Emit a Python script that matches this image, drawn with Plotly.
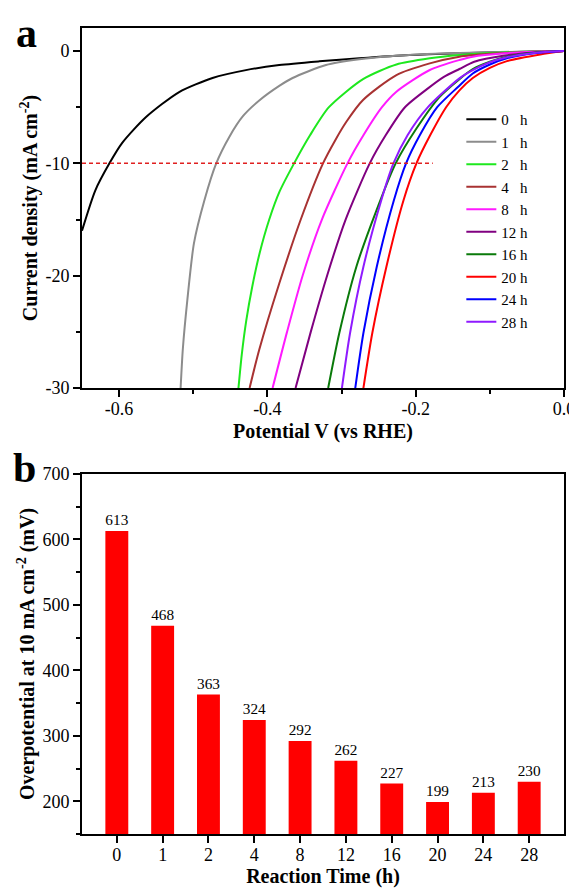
import plotly.graph_objects as go

FONT = "Liberation Serif, Times New Roman, serif"

# ---------------- panel a : LSV curves ----------------
labels = ["0\u2007 h", "1\u2007 h", "2\u2007 h", "4\u2007 h", "8\u2007 h",
          "12 h", "16 h", "20 h", "24 h", "28 h"]
colors = ["#000000", "#8c8c8c", "#1ee81e", "#a83232", "#ff1aff",
          "#800080", "#0a7a0a", "#ff0000", "#0000ff", "#8f1aff"]

x_0h = [-0.65, -0.632, -0.613, -0.596, -0.564, -0.519, -0.474, -0.429, -0.384, -0.33, -0.276, -0.208, -0.14, -0.07, 0.0]
y_0h = [-16.0, -12.4, -10.0, -8.2, -5.9, -3.65, -2.4, -1.7, -1.25, -0.92, -0.65, -0.36, -0.2, -0.08, 0.0]

x_1h = [-0.517, -0.514, -0.508, -0.499, -0.485, -0.469, -0.451, -0.433, -0.411, -0.384, -0.366, -0.321, -0.276, -0.231, -0.185, -0.1, 0.0]
y_1h = [-30.0, -26.5, -22.2, -17.1, -13.3, -10.0, -7.6, -5.8, -4.4, -3.1, -2.4, -1.25, -0.74, -0.45, -0.27, -0.1, 0.0]

x_2h = [-0.439, -0.4345, -0.4285, -0.4205, -0.4105, -0.3975, -0.3835, -0.364, -0.3425, -0.317, -0.271, -0.226, -0.181, -0.141, -0.1, -0.05, 0.0]
y_2h = [-30.0, -27.0, -24.0, -21.0, -18.0, -15.0, -12.5, -10.0, -7.5, -5.0, -2.5, -1.2, -0.65, -0.36, -0.18, -0.07, 0.0]

x_4h = [-0.424, -0.411, -0.384, -0.355, -0.325, -0.309, -0.2935, -0.271, -0.226, -0.181, -0.141, -0.1, -0.05, 0.0]
y_4h = [-30.0, -26.6, -20.7, -15.0, -10.0, -8.0, -6.3, -4.36, -2.14, -1.1, -0.5, -0.25, -0.08, 0.0]

x_8h = [-0.393, -0.3735, -0.3525, -0.3265, -0.292, -0.2705, -0.2455, -0.226, -0.181, -0.141, -0.123, -0.08, -0.04, 0.0]
y_8h = [-30.0, -25.0, -20.0, -15.0, -10.0, -7.5, -5.0, -3.62, -1.69, -0.8, -0.5, -0.2, -0.07, 0.0]

x_12h = [-0.362, -0.3415, -0.3195, -0.2945, -0.262, -0.2405, -0.2145, -0.183, -0.162, -0.141, -0.121, -0.08, -0.04, 0.0]
y_12h = [-30.0, -25.0, -20.0, -15.0, -10.0, -7.5, -5.0, -3.3, -2.3, -1.6, -0.95, -0.4, -0.12, 0.0]

x_16h = [-0.318, -0.303, -0.28, -0.253, -0.227, -0.199, -0.168, -0.141, -0.123, -0.1, -0.077, -0.04, 0.0]
y_16h = [-30.0, -25.1, -19.2, -14.2, -10.0, -6.9, -4.1, -2.5, -1.6, -0.95, -0.5, -0.15, 0.0]

x_20h = [-0.2705, -0.2585, -0.2395, -0.2165, -0.199, -0.1805, -0.159, -0.141, -0.123, -0.1, -0.077, -0.032, 0.0]
y_20h = [-30.0, -25.1, -19.2, -13.3, -10.0, -7.5, -5.0, -3.5, -2.4, -1.5, -0.9, -0.3, 0.0]

x_24h = [-0.2815, -0.2705, -0.2525, -0.2295, -0.213, -0.1945, -0.171, -0.143, -0.123, -0.1, -0.077, -0.04, 0.0]
y_24h = [-30.0, -25.1, -19.2, -13.3, -10.0, -7.5, -5.0, -3.2, -2.0, -1.2, -0.65, -0.2, 0.0]

x_28h = [-0.2995, -0.2885, -0.2705, -0.2465, -0.23, -0.211, -0.1835, -0.141, -0.123, -0.1, -0.077, -0.04, 0.0]
y_28h = [-30.0, -25.1, -19.2, -13.3, -10.0, -7.5, -5.0, -2.43, -1.7, -1.0, -0.55, -0.17, 0.0]

curves_x = [x_0h, x_1h, x_2h, x_4h, x_8h, x_12h, x_16h, x_20h, x_24h, x_28h]
curves_y = [y_0h, y_1h, y_2h, y_4h, y_8h, y_12h, y_16h, y_20h, y_24h, y_28h]

ref_x = [-0.65, -0.177]
ref_y = [-10, -10]

# ---------------- panel b : overpotential bars ----------------
times = ["0", "1", "2", "4", "8", "12", "16", "20", "24", "28"]
overpotential = [613, 468, 363, 324, 292, 262, 227, 199, 213, 230]

fig = go.Figure()

for xs, ys, lab, col in zip(curves_x, curves_y, labels, colors):
    fig.add_trace(go.Scatter(x=xs, y=ys, mode="lines", name=lab,
                             line=dict(color=col, width=2, shape="spline", smoothing=0.7),
                             xaxis="x", yaxis="y"))

fig.add_trace(go.Scatter(x=ref_x, y=ref_y, mode="lines", showlegend=False,
                         line=dict(color="#e02020", width=1.5, dash="4px,3px"),
                         xaxis="x", yaxis="y"))

fig.add_trace(go.Bar(x=times, y=overpotential, marker=dict(color="#ff0000", line=dict(width=0)),
                     width=0.5, showlegend=False, text=[str(v) for v in overpotential],
                     textposition="outside", cliponaxis=False,
                     textfont=dict(family=FONT, size=16, color="black"),
                     xaxis="x2", yaxis="y2"))

axis_common = dict(showline=True, linecolor="black", linewidth=2, mirror=True,
                   ticks="outside", ticklen=7, tickwidth=2, tickcolor="black",
                   showgrid=False, zeroline=False, automargin=False,
                   tickfont=dict(family=FONT, size=18, color="black"))
minor_common = dict(ticks="outside", ticklen=4, tickwidth=2, tickcolor="black")
XT = dict(family=FONT, size=20, color="black")
YT = dict(family=FONT, size=20, color="black")

# the page adds an 8px body margin, so the figure is made 8px smaller on the left/top
fig.update_layout(
    width=569, height=880,
    margin=dict(l=74, r=13, t=20, b=54, autoexpand=False),
    paper_bgcolor="white", plot_bgcolor="white",
    font=dict(family=FONT, color="black"),
    xaxis=dict(**axis_common, domain=[0, 1], range=[-0.65, 0.0], anchor="y",
               ticklabelstandoff=-4,
               tickvals=[-0.6, -0.4, -0.2, 0.0], ticktext=["-0.6", "-0.4", "-0.2", "0.0"],
               minor=dict(tickvals=[-0.5, -0.3, -0.1], **minor_common),
               title=dict(text="<b>Potential V (vs RHE)</b>", font=XT, standoff=6)),
    yaxis=dict(**axis_common, domain=[0.5533, 1.0], range=[-30, 2.05], anchor="x",
               tickvals=[0, -10, -20, -30], ticktext=["0", "-10", "-20", "-30"],
               minor=dict(tickvals=[-5, -15, -25], **minor_common),
               title=dict(text="<b>Current density (mA cm<sup>-2</sup>)</b>", font=YT, standoff=2)),
    xaxis2=dict(**axis_common, domain=[0, 1], range=[-0.76, 9.76], anchor="y2", type="category",
                ticklabelstandoff=-4,
                title=dict(text="<b>Reaction Time (h)</b>", font=XT, standoff=4)),
    yaxis2=dict(**axis_common, domain=[0, 0.4467], range=[150, 700], anchor="x2",
                tickvals=[200, 300, 400, 500, 600, 700],
                minor=dict(tickvals=[150, 250, 350, 450, 550, 650], **minor_common),
                title=dict(text="<b>Overpotential at 10 mA cm<sup>-2</sup> (mV)</b>", font=YT, standoff=2)),
    legend=dict(x=0.787, y=0.907, xanchor="left", yanchor="top", bgcolor="rgba(0,0,0,0)",
                font=dict(family=FONT, size=15, color="black"), tracegroupgap=0),
    showlegend=True,
    annotations=[
        dict(text="<b>a</b>", x=-0.115, y=1.0248, xref="paper", yref="paper", showarrow=False,
             xanchor="center", yanchor="top", font=dict(family=FONT, size=42, color="black")),
        dict(text="<b>b</b>", x=-0.12, y=0.454, xref="paper", yref="paper", showarrow=False,
             xanchor="center", yanchor="middle", font=dict(family=FONT, size=42, color="black")),
    ],
)

fig.write_html("out.html")
